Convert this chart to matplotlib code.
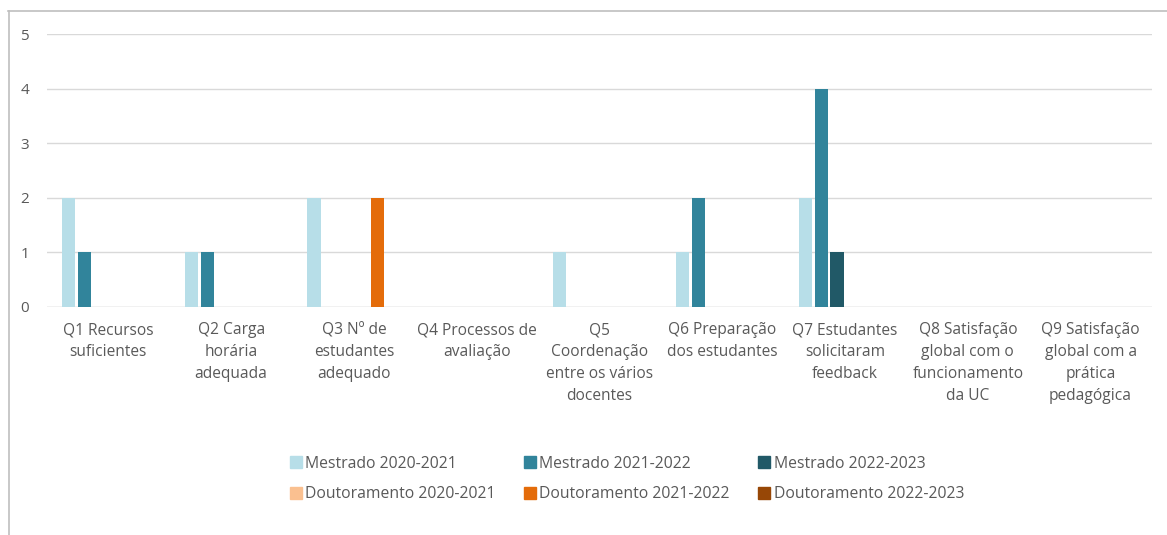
import numpy as np
import matplotlib.pyplot as plt
from matplotlib.lines import Line2D

categories = ["Q1 Recursos\nsuficientes",
              "Q2 Carga\nhorária\nadequada",
              "Q3 Nº de\nestudantes\nadequado",
              "Q4 Processos de\navaliação",
              "Q5\nCoordenação\nentre os vários\ndocentes",
              "Q6 Preparação\ndos estudantes",
              "Q7 Estudantes\nsolicitaram\nfeedback",
              "Q8 Satisfação\nglobal com o\nfuncionamento\nda UC",
              "Q9 Satisfação\nglobal com a\nprática\npedagógica"]

series_names = ["Mestrado 2020-2021", "Mestrado 2021-2022", "Mestrado 2022-2023",
                "Doutoramento 2020-2021", "Doutoramento 2021-2022", "Doutoramento 2022-2023"]

mestrado_2021 = [2, 1, 2, 0, 1, 1, 2, 0, 0]
mestrado_2122 = [1, 1, 0, 0, 0, 2, 4, 0, 0]
mestrado_2223 = [0, 0, 0, 0, 0, 0, 1, 0, 0]
doutor_2021 = [0, 0, 0, 0, 0, 0, 0, 0, 0]
doutor_2122 = [0, 0, 2, 0, 0, 0, 0, 0, 0]
doutor_2223 = [0, 0, 0, 0, 0, 0, 0, 0, 0]

series = [mestrado_2021, mestrado_2122, mestrado_2223, doutor_2021, doutor_2122, doutor_2223]
colors = ['#B7DEE8', '#31849B', '#215967', '#FAC090', '#E46C0A', '#974706']

plt.rcParams['font.family'] = ['Open Sans', 'DejaVu Sans']

fig = plt.figure(figsize=(11.67, 5.35), dpi=100)
ax = fig.add_axes([47/1167, 1-307/535, (1152-47)/1167, (307-34)/535])

x = np.arange(len(categories))
w = 16/122.8
for i, (vals, c) in enumerate(zip(series, colors)):
    pos = x - 3*w + i*w + w/2
    v = np.array(vals, dtype=float)
    ax.bar(pos, v, width=w*0.82, color=c, zorder=3)

ax.set_xlim(-0.5, len(categories)-0.5)
ax.set_ylim(0, 5)
ax.set_yticks(range(6))
ax.yaxis.grid(True, color='#d9d9d9', linewidth=1, zorder=0)
for s in ax.spines.values():
    s.set_visible(False)
ax.axhline(0, color='#d9d9d9', linewidth=1, zorder=1)
ax.tick_params(axis='both', length=0, colors='#595959', labelsize=11)
ax.tick_params(axis='y', pad=13)
ax.set_xticks(x)
ax.set_xticklabels(categories, linespacing=1.48, va='top', fontsize=11.2)
ax.tick_params(axis='x', pad=11)

# legend, Mestrado on first row
handles = [Line2D([], [], marker='s', linestyle='none', markersize=8,
                  markerfacecolor=c, markeredgecolor=c) for c in colors]
order = [0, 3, 1, 4, 2, 5]
fig.legend([handles[i] for i in order], [series_names[i] for i in order],
           ncol=3, loc='center', bbox_to_anchor=(626/1167, 1-479/535),
           frameon=False, fontsize=11.3, labelcolor='#595959',
           handletextpad=0.1, columnspacing=1.7, labelspacing=0.95,
           handlelength=1.0)

# outer chart border (top and left visible)
fig.add_artist(Line2D([8/1167, 1], [1-11/535, 1-11/535], color='#bfbfbf', linewidth=1.2))
fig.add_artist(Line2D([8.5/1167, 8.5/1167], [0, 1-11/535], color='#bfbfbf', linewidth=1.2))

fig.savefig('out.png', dpi=100)
